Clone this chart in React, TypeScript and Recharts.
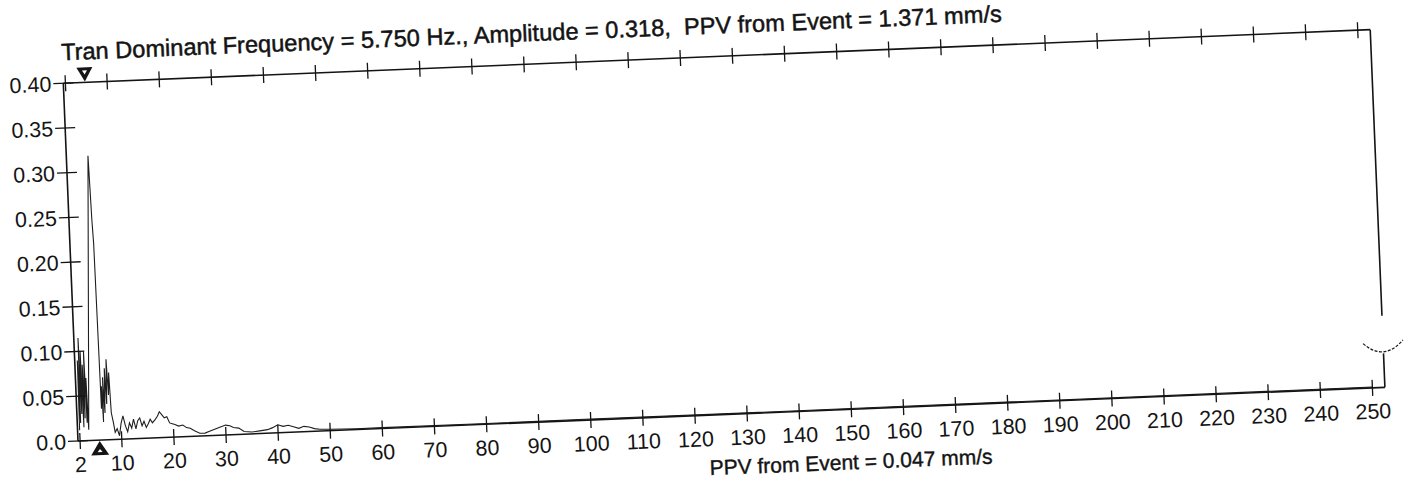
import { LineChart, Line, XAxis, YAxis, ReferenceDot, ReferenceLine } from "recharts";

// spectrum (Hz / amplitude)
const freqHz = [
  2.0, 2.1, 2.25, 2.4, 2.55, 2.7, 2.85, 3.0, 3.15, 3.35, 3.5, 3.6, 3.75,
  5.75, 6.0, 6.15, 6.35, 6.5, 6.65, 6.8, 7.0, 7.2, 7.4, 7.6, 7.8, 8.0, 8.2, 8.5, 8.8,
  9.2, 9.6, 10.0, 10.4, 10.8, 11.2, 11.6, 12.0, 12.4, 12.8, 13.2, 13.6, 14.0, 14.4,
  14.8, 15.2, 15.6, 16.0, 16.5, 17.0, 17.4, 17.8, 18.3, 18.8, 19.3, 19.8, 20.3,
  21.0, 21.8, 22.5, 23.2, 24.0, 25.0, 26.0, 27.0, 28.0, 29.0, 30.0, 30.8, 31.5,
  32.5, 33.5, 35.0, 36.5, 38.0, 39.0, 40.0, 41.0, 42.0, 43.0, 44.0, 45.0, 46.0,
  47.0, 48.0, 50, 55, 60, 80, 100, 130, 160, 200, 250,
];
const amplitude = [
  0.012, 0.09, 0.02, 0.115, 0.03, 0.1, 0.015, 0.085, 0.025, 0.1, 0.02, 0.07, 0.012,
  0.318, 0.245, 0.22, 0.035, 0.06, 0.02, 0.07, 0.03, 0.08, 0.04, 0.09, 0.05, 0.075, 0.03, 0.02, 0.008,
  0.012, 0.004, 0.018, 0.026, 0.015, 0.008, 0.018, 0.012, 0.022, 0.011, 0.02, 0.023, 0.014, 0.019,
  0.012, 0.016, 0.021, 0.017, 0.02, 0.024, 0.029, 0.026, 0.022, 0.023, 0.016, 0.015, 0.014,
  0.012, 0.013, 0.01, 0.009, 0.006, 0.003, 0.003, 0.005, 0.007, 0.009, 0.011, 0.01, 0.008,
  0.007, 0.003, 0.002, 0.003, 0.004, 0.006, 0.009, 0.007, 0.008, 0.006, 0.004, 0.006, 0.005,
  0.003, 0.002, 0.0015, 0.001, 0.001, 0.0008, 0.001, 0.0008, 0.001, 0.0008, 0.001,
];

const xTicks = [2, 10, 20, 30, 40, 50, 60, 70, 80, 90, 100, 110, 120, 130, 140, 150, 160, 170, 180, 190, 200, 210, 220, 230, 240, 250];
const yTicks = [0, 0.05, 0.1, 0.15, 0.2, 0.25, 0.3, 0.35, 0.4];
const yTickLabels = ["0.0", "0.05", "0.10", "0.15", "0.20", "0.25", "0.30", "0.35", "0.40"];
const rightTicks = [0.1, 0.15, 0.2, 0.25, 0.3, 0.35, 0.4];

const dominantHz = 5.75;
const title = "Tran Dominant Frequency = 5.750 Hz., Amplitude = 0.318,  PPV from Event = 1.371 mm/s";
const nextTitle = "PPV from Event = 0.047 mm/s";

const X_MIN = 1.6;
const X_MAX = 252.4;
const INK = "#141414";
const FONT = "'Liberation Sans', Arial, sans-serif";

const data = freqHz.map((f, i) => ({ f, amp: amplitude[i] }));

function LeftTick(props: any) {
  const { x, y, index } = props;
  return (
    <g>
      <line x1={x - 10} x2={x + 10} y1={y} y2={y} stroke={INK} strokeWidth={1.3} />
      <text x={x - 12} y={y} dy="0.36em" textAnchor="end" fontSize={21.5} fontFamily={FONT} fill={INK}>
        {yTickLabels[index]}
      </text>
    </g>
  );
}

function RightTick(props: any) {
  const { x, y } = props;
  return <line x1={x - 11} x2={x + 11} y1={y} y2={y} stroke={INK} strokeWidth={1.3} />;
}

function BottomTick(props: any) {
  const { x, y, payload } = props;
  return (
    <g>
      <line x1={x} x2={x} y1={y - 8} y2={y + 8} stroke={INK} strokeWidth={1.3} />
      <text x={x} y={y + 31} textAnchor="middle" fontSize={21.5} fontFamily={FONT} fill={INK}>
        {payload.value}
      </text>
    </g>
  );
}

function TopTick(props: any) {
  const { x, y } = props;
  return <line x1={x} x2={x} y1={y - 8} y2={y + 8} stroke={INK} strokeWidth={1.3} />;
}

function UpMarker(props: any) {
  const { cx, cy } = props;
  return (
    <g>
      <path d={`M${cx},${cy + 1} L${cx + 9},${cy + 15} L${cx - 9},${cy + 15} Z`} fill={INK} />
      <path d={`M${cx},${cy + 9} L${cx + 2.5},${cy + 12} L${cx - 2.5},${cy + 12} Z`} fill="#fff" />
    </g>
  );
}

function DownMarker(props: any) {
  const { cx, cy } = props;
  return (
    <g>
      <path d={`M${cx - 8},${cy - 15} L${cx + 8},${cy - 15} L${cx},${cy - 1} Z`} fill={INK} />
      <path d={`M${cx - 2.5},${cy - 12} L${cx + 2.5},${cy - 12} L${cx},${cy - 8} Z`} fill="#fff" />
    </g>
  );
}

function CupMarker(props: any) {
  const { cx, cy } = props;
  return (
    <path
      d={`M${cx - 20},${cy - 7} Q${cx},${cy + 12} ${cx + 20},${cy - 9}`}
      fill="none"
      stroke={INK}
      strokeWidth={1.2}
      strokeDasharray="3 1.5"
    />
  );
}

const axisStyle = { stroke: INK, strokeWidth: 1.6 };

export default function App() {
  return (
    <div style={{ position: "absolute", left: 0, top: 0, width: 1410, height: 481, overflow: "hidden", background: "#fff" }}>
      <div
        style={{
          position: "absolute",
          left: 3,
          top: 33,
          width: 1423,
          height: 458,
          transform: "rotate(-2.35deg)",
          transformOrigin: "75px 408px",
        }}
      >
        <LineChart width={1423} height={458} data={data} margin={{ top: 30, right: 0, bottom: 10, left: 0 }}>
          <XAxis
            dataKey="f"
            type="number"
            domain={[X_MIN, X_MAX]}
            ticks={xTicks}
            interval={0}
            tickSize={0}
            tickMargin={0}
            tickLine={false}
            tick={BottomTick}
            axisLine={axisStyle}
            height={40}
            allowDataOverflow
          />
          <XAxis
            xAxisId="top"
            orientation="top"
            dataKey="f"
            type="number"
            domain={[X_MIN, X_MAX]}
            ticks={xTicks}
            interval={0}
            tickSize={0}
            tickMargin={0}
            tickLine={false}
            tick={TopTick}
            axisLine={axisStyle}
            height={20}
            allowDataOverflow
          />
          <YAxis
            type="number"
            domain={[0, 0.4]}
            ticks={yTicks}
            interval={0}
            tickSize={0}
            tickMargin={0}
            tickLine={false}
            tick={LeftTick}
            axisLine={axisStyle}
            width={75}
            allowDataOverflow
          />
          <YAxis
            yAxisId="right"
            orientation="right"
            type="number"
            domain={[0, 0.4]}
            ticks={rightTicks}
            interval={0}
            tickSize={0}
            tickMargin={0}
            tickLine={false}
            tick={RightTick}
            axisLine={false}
            width={40}
          />
          <ReferenceLine
            segment={[{ x: X_MAX, y: 0.4 }, { x: X_MAX, y: 0.08 }]}
            stroke={INK}
            strokeWidth={1.6}
            ifOverflow="visible"
          />
          <ReferenceLine
            segment={[{ x: X_MAX, y: 0 }, { x: X_MAX, y: 0.038 }]}
            stroke={INK}
            strokeWidth={1.6}
            ifOverflow="visible"
          />
          <Line
            dataKey="amp"
            type="linear"
            stroke="#1e1e1e"
            strokeWidth={1.1}
            dot={false}
            isAnimationActive={false}
          />
          <ReferenceDot x={dominantHz} y={0} ifOverflow="visible" shape={UpMarker} />
          <ReferenceDot x={dominantHz} y={0.4} ifOverflow="visible" shape={DownMarker} />
          <ReferenceDot x={X_MAX} y={0.042} ifOverflow="visible" shape={CupMarker} />
        </LineChart>
        <svg
          width={1423}
          height={458}
          style={{ position: "absolute", left: 0, top: 0, overflow: "visible", pointerEvents: "none" }}
        >
          <text
            x={74}
            y={27}
            fontSize={23.6}
            fontFamily={FONT}
            fill={INK}
            stroke={INK}
            strokeWidth={0.5}
            style={{ whiteSpace: "pre" }}
          >
            {title}
          </text>
          <text
            x={705}
            y={468}
            fontSize={21}
            fontFamily={FONT}
            fill={INK}
            stroke={INK}
            strokeWidth={0.4}
            style={{ whiteSpace: "pre" }}
          >
            {nextTitle}
          </text>
        </svg>
      </div>
    </div>
  );
}
